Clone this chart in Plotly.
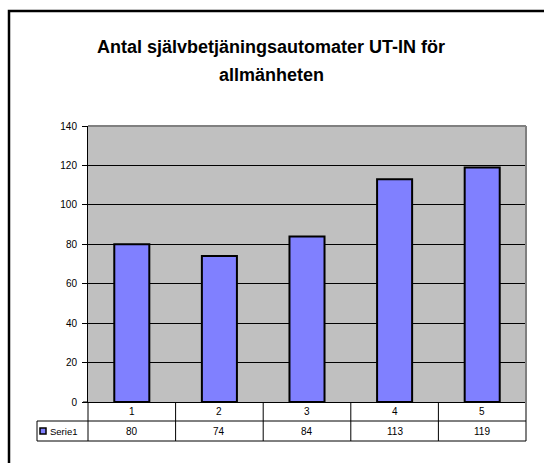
import plotly.graph_objects as go

# Chart data
categories = ["1", "2", "3", "4", "5"]
values = [80, 74, 84, 113, 119]
series_name = "Serie1"
title_lines = ["Antal självbetjäningsautomater UT-IN för", "allmänheten"]
y_ticks = [0, 20, 40, 60, 80, 100, 120, 140]

W, H = 544, 463
ML, MR, MT, MB = 88, 18, 126, 61
PW = W - ML - MR
PH = H - MT - MB

FONT = "Arial, Liberation Sans, sans-serif"
BAR_COLOR = "#8080FF"
PLOT_BG = "#C0C0C0"


def px_x(x):
    """Pixel column -> paper x."""
    return (x - ML) / PW


def px_y(y):
    """Pixel row -> paper y."""
    return (H - MB - y) / PH


n = len(categories)
xs = list(range(n))

fig = go.Figure()
fig.add_trace(go.Bar(
    x=xs, y=values, name=series_name,
    marker=dict(color=BAR_COLOR, line=dict(color="black", width=2)),
    showlegend=False, hoverinfo="x+y",
))

shapes = []
annotations = []

# Outer chart frame (runs off the right and bottom edges)
shapes.append(dict(type="rect", xref="paper", yref="paper",
                   x0=px_x(9), x1=px_x(W + 20), y0=px_y(11), y1=px_y(H + 20),
                   line=dict(color="black", width=2.5), fillcolor="rgba(0,0,0,0)",
                   layer="below"))

# Plot area border: gray top and right edges
shapes.append(dict(type="line", xref="paper", yref="paper", x0=0, x1=1, y0=1, y1=1,
                   line=dict(color="#808080", width=2)))
shapes.append(dict(type="line", xref="paper", yref="paper", x0=1, x1=1,
                   y0=px_y(441), y1=1, line=dict(color="#808080", width=2)))

# Data table under the axis
row1_y = px_y(421)
bot_y = px_y(441)
legend_x0 = px_x(37)
# y-axis line continues through the table
shapes.append(dict(type="line", xref="paper", yref="paper", x0=0, x1=0,
                   y0=bot_y, y1=0, line=dict(color="black", width=1)))
# horizontal rules
shapes.append(dict(type="line", xref="paper", yref="paper", x0=legend_x0, x1=1,
                   y0=row1_y, y1=row1_y, line=dict(color="black", width=1)))
shapes.append(dict(type="line", xref="paper", yref="paper", x0=legend_x0, x1=1,
                   y0=bot_y, y1=bot_y, line=dict(color="black", width=1)))
shapes.append(dict(type="line", xref="paper", yref="paper", x0=legend_x0, x1=legend_x0,
                   y0=bot_y, y1=row1_y, line=dict(color="black", width=1)))
# x-axis line extends a little left of the y-axis
shapes.append(dict(type="line", xref="paper", yref="paper", x0=px_x(83), x1=0,
                   y0=0, y1=0, line=dict(color="black", width=1)))
# column separators between categories
for i in range(n - 1):
    shapes.append(dict(type="line", xref="x", yref="paper", x0=i + 0.5, x1=i + 0.5,
                       y0=bot_y, y1=0, line=dict(color="black", width=1)))

# legend key in the table
shapes.append(dict(type="rect", xref="paper", yref="paper",
                   x0=px_x(40), x1=px_x(46), y0=px_y(434), y1=px_y(428),
                   fillcolor=BAR_COLOR, line=dict(color="black", width=1.5)))
annotations.append(dict(text=series_name, xref="paper", yref="paper",
                        x=px_x(48), y=(row1_y + bot_y) / 2, xanchor="left",
                        yanchor="middle", showarrow=False,
                        font=dict(family=FONT, size=9.5, color="black")))

for i, (c, v) in enumerate(zip(categories, values)):
    annotations.append(dict(text=c, xref="x", yref="paper", x=i, y=row1_y / 2,
                            xanchor="center", yanchor="middle", showarrow=False,
                            font=dict(family=FONT, size=10, color="black")))
    annotations.append(dict(text=str(v), xref="x", yref="paper", x=i,
                            y=(row1_y + bot_y) / 2, xanchor="center",
                            yanchor="middle", showarrow=False,
                            font=dict(family=FONT, size=10, color="black")))

# Title, two lines
for line, ypix in zip(title_lines, [47, 75]):
    annotations.append(dict(text="<b>%s</b>" % line, xref="paper", yref="paper",
                            x=px_x(271), y=px_y(ypix), xanchor="center",
                            yanchor="middle", showarrow=False,
                            font=dict(family=FONT, size=18, color="black")))

fig.update_layout(
    width=W, height=H,
    margin=dict(l=ML, r=MR, t=MT, b=MB, pad=0),
    paper_bgcolor="white",
    plot_bgcolor=PLOT_BG,
    bargap=0.6,
    shapes=shapes,
    annotations=annotations,
    font=dict(family=FONT, size=10, color="black"),
    xaxis=dict(range=[-0.5, n - 0.5], showticklabels=False, ticks="",
               showgrid=False, zeroline=False, showline=True,
               linecolor="black", linewidth=1, fixedrange=True),
    yaxis=dict(range=[0, 140], tickvals=y_ticks, ticks="outside", ticklen=5,
               tickcolor="black", tickwidth=1, showgrid=True, gridcolor="black",
               gridwidth=1, zeroline=False, showline=True, linecolor="black",
               linewidth=1, tickfont=dict(family=FONT, size=10, color="black"),
               ticklabelstandoff=3, fixedrange=True),
)

fig.write_html("out.html")
